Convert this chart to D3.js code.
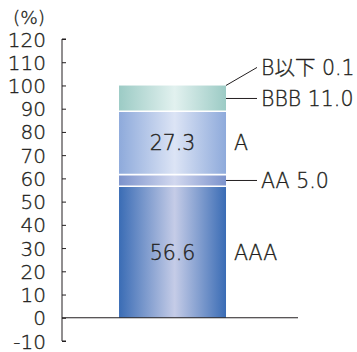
<!DOCTYPE html>
<html>
<head>
<meta charset="utf-8">
<script src="https://cdn.jsdelivr.net/npm/d3@7"></script>
<style>
  body { margin: 0; background: #fff; }
  text { font-family: "DejaVu Sans", "Noto Sans CJK JP", sans-serif; font-weight: 200;
         fill: #231f20; stroke: #231f20; stroke-width: 0.35px; }
</style>
</head>
<body>
<svg id="chart"></svg>
<script>
// rating breakdown (%), stacked bottom to top
const ratings = ['AAA', 'AA', 'A', 'BBB', 'B以下'];
const shares = [56.6, 5.0, 27.3, 11.0, 0.1];
const yTicks = [-10, 0, 10, 20, 30, 40, 50, 60, 70, 80, 90, 100, 110, 120];
const unitLabel = '(%)';

const W = 357, H = 352;
const svg = d3.select('#chart').attr('width', W).attr('height', H);

// Scales
const y = d3.scaleLinear().domain([-10, 120]).range([341, 39]);
const x = d3.scaleBand().domain(['total']).range([62, 298])
  .paddingInner(0).paddingOuter(0.603).align(0.442);

// gradients (edge colour, centre colour)
const grads = {
  'AAA': ['#3a6cb5', '#c5cce7'],
  'AA': ['#7c93cc', '#d2d8ef'],
  'A': ['#8eaadb', '#dce4f5'],
  'BBB': ['#9ccbc5', '#e2f1ef'],
  'B以下': ['#9ccbc5', '#e2f1ef']
};
const defs = svg.append('defs');
ratings.forEach((r, i) => {
  const g = defs.append('linearGradient').attr('id', 'g' + i)
    .attr('x1', '0%').attr('x2', '100%').attr('y1', '0%').attr('y2', '0%');
  g.append('stop').attr('offset', '0%').attr('stop-color', grads[r][0]);
  g.append('stop').attr('offset', '52%').attr('stop-color', grads[r][1]);
  g.append('stop').attr('offset', '100%').attr('stop-color', grads[r][0]);
});

// stack
let acc = 0;
const segs = ratings.map((r, i) => {
  const s = { r, i, v: shares[i], y0: acc, y1: acc + shares[i] };
  acc += shares[i];
  return s;
});

// bars
svg.append('g').selectAll('rect').data(segs).join('rect')
  .attr('x', x('total'))
  .attr('width', x.bandwidth())
  .attr('y', d => y(d.y1))
  .attr('height', d => y(d.y0) - y(d.y1))
  .attr('fill', d => `url(#g${d.i})`);

// white separators
svg.append('g').selectAll('line').data(segs.slice(1, 4)).join('line')
  .attr('x1', x('total')).attr('x2', x('total') + x.bandwidth())
  .attr('y1', d => y(d.y0)).attr('y2', d => y(d.y0))
  .attr('stroke', '#fff').attr('stroke-width', 1.6);

// y axis
const yAxis = svg.append('g').attr('transform', 'translate(62,0)')
  .call(d3.axisRight(y).tickValues(yTicks).tickSize(4).tickFormat(''));
yAxis.select('.domain').attr('d', `M4,${y(120)}H0V${y(-10)}H4`).attr('stroke', '#231f20');
yAxis.selectAll('.tick line').attr('stroke', '#231f20');

svg.append('g').selectAll('text').data(yTicks).join('text')
  .attr('x', 46).attr('y', d => y(d) + 7.5)
  .attr('text-anchor', 'end')
  .style('font-size', '20px')
  .text(d => d);

svg.append('text').attr('x', 13).attr('y', 24)
  .style('font-size', '18.5px').text(unitLabel);

// zero line
svg.append('line').attr('x1', 62).attr('x2', 298)
  .attr('y1', y(0)).attr('y2', y(0))
  .attr('stroke', '#231f20').attr('stroke-width', 1.2);

const fs = '20.5px';
const bx = x('total') + x.bandwidth();
const mid = d => y((d.y0 + d.y1) / 2);

// values inside bars
svg.append('g').selectAll('text').data(segs.filter(d => d.v > 20)).join('text')
  .attr('x', x('total') + x.bandwidth() / 2).attr('y', d => mid(d) + 7.5)
  .attr('text-anchor', 'middle').style('font-size', fs)
  .text(d => d.v.toFixed(1));

// right labels for big segments
svg.append('g').selectAll('text').data(segs.filter(d => d.v > 20)).join('text')
  .attr('x', bx + 8).attr('y', d => mid(d) + 7.5)
  .style('font-size', fs)
  .text(d => d.r);

// leader labels for small segments
const small = segs.filter(d => d.v <= 20);
const leaderY = d => d.r === 'B以下' ? y(d.y1) - 18 : mid(d);
svg.append('g').selectAll('path').data(small).join('path')
  .attr('d', d => `M${bx},${d.r === 'B以下' ? y(d.y1) : mid(d)}L${bx + 31},${leaderY(d)}`)
  .attr('stroke', '#231f20').attr('stroke-width', 1).attr('fill', 'none');
svg.append('g').selectAll('text').data(small).join('text')
  .attr('x', bx + 35).attr('y', d => leaderY(d) + 7.5)
  .style('font-size', fs)
  .text(d => `${d.r} ${d.v.toFixed(1)}`);
</script>
</body>
</html>
